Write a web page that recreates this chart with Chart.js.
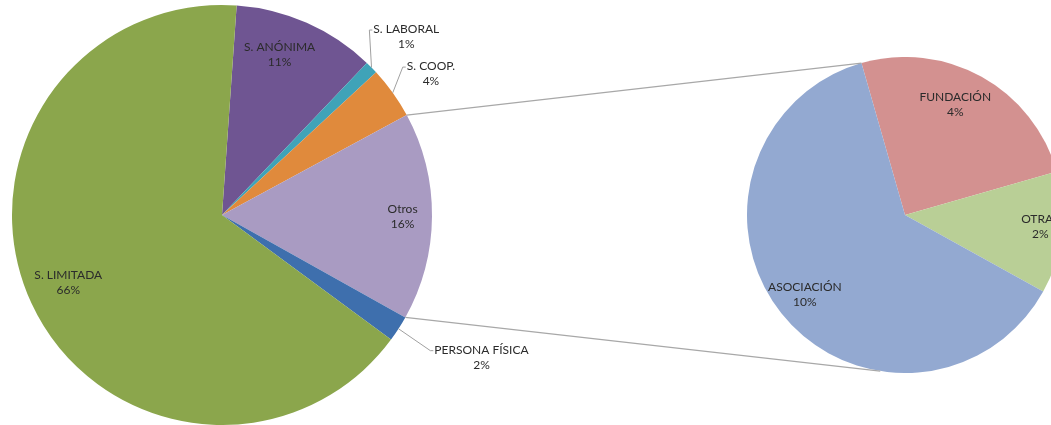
<!DOCTYPE html>
<html>
<head>
<meta charset="utf-8">
<script src="https://cdn.jsdelivr.net/npm/chart.js@4.4.1/dist/chart.umd.min.js"></script>
<style>
html, body { margin: 0; padding: 0; background: #fff; overflow: hidden; width: 1051px; height: 425px; }
#subPie { position: absolute; left: 747px; top: 57px; }
#mainPie { position: absolute; left: 0; top: 0; }
</style>
</head>
<body>
<canvas id="subPie" width="316" height="316"></canvas>
<canvas id="mainPie" width="1051" height="425"></canvas>
<script>
// main pie
var mainLabels = ['S. ANÓNIMA', 'S. LABORAL', 'S. COOP.', 'Otros', 'PERSONA FÍSICA', 'S. LIMITADA'];
var mainValues = [11, 1, 4, 16, 2, 66];
var mainColors = ['#6f5592', '#3fa3b8', '#e08a3c', '#a99bc2', '#3e6fad', '#8ba64c'];

// breakdown of "Otros"
var subLabels = ['FUNDACIÓN', 'OTRAS', 'ASOCIACIÓN'];
var subValues = [4, 2, 10];
var subColors = ['#d39190', '#b9cf96', '#93a9d1'];

var FONT = '12px Lato';

// labels: place[i] = [radius factor, angle shift in degrees, outside?]
var sliceLabels = {
    id: 'sliceLabels',
    afterDatasetsDraw: function (chart, args, opts) {
        var ctx = chart.ctx;
        var meta = chart.getDatasetMeta(0);
        var data = chart.data.datasets[0].data;
        ctx.save();
        ctx.font = FONT;
        ctx.textAlign = 'center';
        ctx.textBaseline = 'middle';
        meta.data.forEach(function (arc, i) {
            var p = opts.place[i];
            var mid = (arc.startAngle + arc.endAngle) / 2;
            var a = mid + p[1] * Math.PI / 180;
            var r = arc.outerRadius * p[0];
            var x = arc.x + Math.cos(a) * r;
            var y = arc.y + Math.sin(a) * r;
            var line1 = chart.data.labels[i];
            var line2 = data[i] + '%';
            if (p[2]) {
                var half = Math.max(ctx.measureText(line1).width, ctx.measureText(line2).width) / 2;
                var ex = arc.x + Math.cos(mid) * arc.outerRadius;
                var ey = arc.y + Math.sin(mid) * arc.outerRadius;
                ctx.strokeStyle = '#a0a0a0';
                ctx.lineWidth = 1;
                ctx.beginPath();
                ctx.moveTo(ex, ey);
                ctx.lineTo(x - half - 4, y - 7);
                ctx.lineTo(x - half - 1, y - 7);
                ctx.stroke();
            }
            ctx.fillStyle = '#2b2b2b';
            ctx.fillText(line1, x, y - 7.5);
            ctx.fillText(line2, x, y + 7.5);
        });
        ctx.restore();
    }
};

var subChart = new Chart(document.getElementById('subPie'), {
    type: 'pie',
    data: {
        labels: subLabels,
        datasets: [{ data: subValues, backgroundColor: subColors, borderWidth: 0 }]
    },
    options: {
        responsive: false,
        animation: false,
        rotation: -16,
        layout: { padding: 0 },
        plugins: {
            legend: { display: false },
            tooltip: { enabled: false },
            sliceLabels: { place: [[0.77, -4.6], [0.86, -1.5], [0.81, 0]] }
        }
    },
    plugins: [sliceLabels]
});

// lines from the "Otros" slice to the second pie
var connectors = {
    id: 'connectors',
    afterDraw: function (chart, args, opts) {
        var ctx = chart.ctx;
        var otros = chart.getDatasetMeta(0).data[opts.index];
        var sub = subChart.getDatasetMeta(0).data[0];
        var ox = subChart.canvas.offsetLeft - chart.canvas.offsetLeft;
        var oy = subChart.canvas.offsetTop - chart.canvas.offsetTop;
        var cx = sub.x + ox, cy = sub.y + oy, R = sub.outerRadius;
        var bottom = (opts.bottomDeg - 90) * Math.PI / 180;
        var pts = [
            [otros.startAngle, sub.startAngle],
            [otros.endAngle, bottom]
        ];
        ctx.save();
        ctx.strokeStyle = '#a8a8a8';
        ctx.lineWidth = 1.2;
        pts.forEach(function (p) {
            ctx.beginPath();
            ctx.moveTo(otros.x + Math.cos(p[0]) * otros.outerRadius, otros.y + Math.sin(p[0]) * otros.outerRadius);
            ctx.lineTo(cx + Math.cos(p[1]) * R, cy + Math.sin(p[1]) * R);
            ctx.stroke();
        });
        ctx.restore();
    }
};

var mainChart = new Chart(document.getElementById('mainPie'), {
    type: 'pie',
    data: {
        labels: mainLabels,
        datasets: [{ data: mainValues, backgroundColor: mainColors, borderWidth: 0 }]
    },
    options: {
        responsive: false,
        animation: false,
        rotation: 4,
        events: [],
        layout: { padding: { left: 12, top: 5, right: 619, bottom: 0 } },
        plugins: {
            legend: { display: false },
            tooltip: { enabled: false },
            sliceLabels: {
                place: [[0.81, -4], [1.22, 0.6, true], [1.2, 1.6, true], [0.86, 0], [1.41, -4, true], [0.8, 1]]
            },
            connectors: { index: 3, bottomDeg: 189 }
        }
    },
    plugins: [sliceLabels, connectors]
});
</script>
</body>
</html>
